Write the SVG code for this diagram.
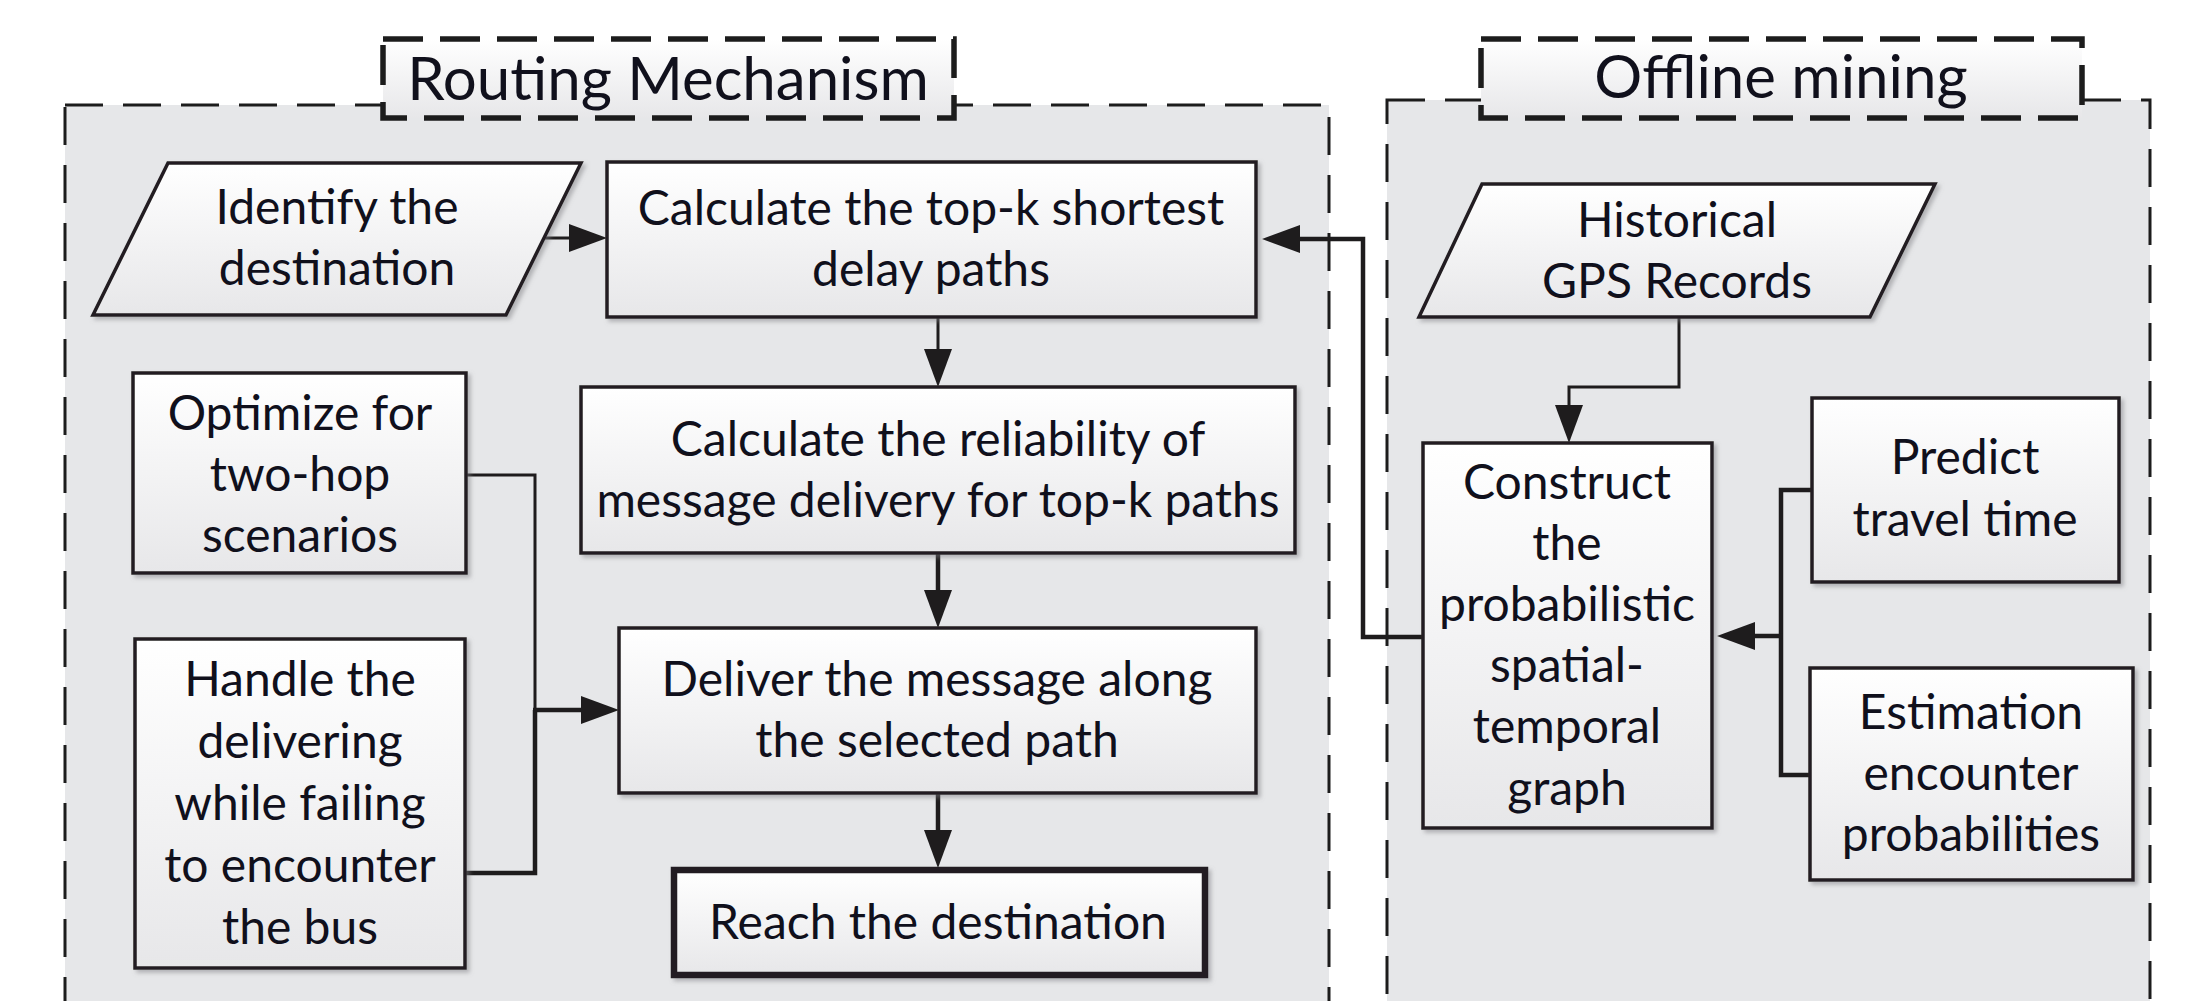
<svg xmlns="http://www.w3.org/2000/svg" width="2200" height="1001" viewBox="0 0 2200 1001">
  <style>
    .panel { fill: #e6e7e9; stroke: #1c1c1c; stroke-width: 3; stroke-dasharray: 38 20; }
    .title-box { fill: url(#nodeFill); stroke: #1c1c1c; stroke-width: 5.5; stroke-dasharray: 40 17; }
    .title { font-family: Lato, "Open Sans", sans-serif; font-size: 60px; fill: #10101c; text-anchor: middle; }
    .node { fill: url(#nodeFill); stroke: #231f20; stroke-width: 3.5; filter: url(#shadow); }
    .node.strong { stroke-width: 6.5; }
    .label { font-family: Lato, "Open Sans", sans-serif; font-size: 48px; fill: #10101c; text-anchor: middle; }
    .wire { fill: none; stroke: #1e1c1d; stroke-width: 4.5; }
    .wire.thin { stroke-width: 3; }
    .arrow { marker-end: url(#head); }
  </style>
  <defs>
    <linearGradient id="nodeFill" x1="0" y1="0" x2="0" y2="1">
      <stop offset="0" stop-color="#ffffff"/>
      <stop offset="1" stop-color="#e7e7e9"/>
    </linearGradient>
    <filter id="shadow" x="-10%" y="-10%" width="125%" height="125%">
      <feDropShadow dx="3" dy="3" stdDeviation="2" flood-color="#7d7d80" flood-opacity="0.5"/>
    </filter>
    <marker id="head" markerUnits="userSpaceOnUse" markerWidth="38" markerHeight="28" refX="28" refY="14" orient="auto">
      <path d="M0,0 L38,14 L0,28 Z" fill="#1e1c1d"/>
    </marker>
  </defs>

  <!-- Panels -->
  <g id="routing-panel">
    <rect class="panel" x="65" y="105" width="1264" height="960"/>
    <rect class="title-box" x="383" y="39" width="571" height="79"/>
    <text class="title" x="668" y="100">Routing Mechanism</text>
  </g>
  <g id="offline-panel">
    <rect class="panel" x="1387" y="100" width="763" height="960"/>
    <rect class="title-box" x="1481" y="39" width="601" height="79"/>
    <text class="title" x="1781" y="98">Offline mining</text>
  </g>

  <!-- Connectors -->
  <g id="connectors">
    <path class="wire thin arrow" d="M545,238 H597"/>
    <path class="wire thin arrow" d="M938,317 V377"/>
    <path class="wire arrow" d="M938,553 V618"/>
    <path class="wire arrow" d="M938,793 V858"/>
    <path class="wire thin" d="M466,475 H535 V873"/>
    <path class="wire" d="M535,710 V873 H465"/>
    <path class="wire arrow" d="M533,710 H609"/>
    <path class="wire thin arrow" d="M1679,317 V387 H1569 V433"/>
    <path class="wire" d="M1813,490 H1781 V775 H1810"/>
    <path class="wire arrow" d="M1783,636 H1727"/>
    <path class="wire arrow" d="M1423,637 H1363 V239 H1272"/>
  </g>

  <!-- Routing mechanism nodes -->
  <g id="identify-destination">
    <polygon class="node" points="168,163 581,163 506,315 93,315"/>
    <text class="label" x="337" y="224">Identify the</text>
    <text class="label" x="337" y="285">destination</text>
  </g>
  <g id="top-k-paths">
    <rect class="node" x="607" y="162" width="649" height="155"/>
    <text class="label" x="931" y="225">Calculate the top-k shortest</text>
    <text class="label" x="931" y="286">delay paths</text>
  </g>
  <g id="reliability">
    <rect class="node" x="581" y="387" width="714" height="166"/>
    <text class="label" x="938" y="456">Calculate the reliability of</text>
    <text class="label" x="938" y="517">message delivery for top-k paths</text>
  </g>
  <g id="deliver-message">
    <rect class="node" x="619" y="628" width="637" height="165"/>
    <text class="label" x="937" y="696">Deliver the message along</text>
    <text class="label" x="937" y="757">the selected path</text>
  </g>
  <g id="reach-destination">
    <rect class="node strong" x="674" y="870" width="531" height="105"/>
    <text class="label" x="938" y="939">Reach the destination</text>
  </g>
  <g id="two-hop">
    <rect class="node" x="133" y="373" width="333" height="200"/>
    <text class="label" x="300" y="430">Optimize for</text>
    <text class="label" x="300" y="491">two-hop</text>
    <text class="label" x="300" y="552">scenarios</text>
  </g>
  <g id="handle-failure">
    <rect class="node" x="135" y="639" width="330" height="329"/>
    <text class="label" x="300" y="696">Handle the</text>
    <text class="label" x="300" y="758">delivering</text>
    <text class="label" x="300" y="820">while failing</text>
    <text class="label" x="300" y="882">to encounter</text>
    <text class="label" x="300" y="944">the bus</text>
  </g>

  <!-- Offline mining nodes -->
  <g id="gps-records">
    <polygon class="node" points="1482,184 1935,184 1870,317 1419,317"/>
    <text class="label" x="1677" y="237">Historical</text>
    <text class="label" x="1677" y="298">GPS Records</text>
  </g>
  <g id="st-graph">
    <rect class="node" x="1423" y="443" width="289" height="385"/>
    <text class="label" x="1567" y="499">Construct</text>
    <text class="label" x="1567" y="560">the</text>
    <text class="label" x="1567" y="621">probabilistic</text>
    <text class="label" x="1567" y="682">spatial-</text>
    <text class="label" x="1567" y="743">temporal</text>
    <text class="label" x="1567" y="805">graph</text>
  </g>
  <g id="travel-time">
    <rect class="node" x="1812" y="398" width="307" height="184"/>
    <text class="label" x="1965" y="474">Predict</text>
    <text class="label" x="1965" y="536">travel time</text>
  </g>
  <g id="encounter-prob">
    <rect class="node" x="1810" y="668" width="323" height="212"/>
    <text class="label" x="1971" y="729">Estimation</text>
    <text class="label" x="1971" y="790">encounter</text>
    <text class="label" x="1971" y="851">probabilities</text>
  </g>
</svg>
